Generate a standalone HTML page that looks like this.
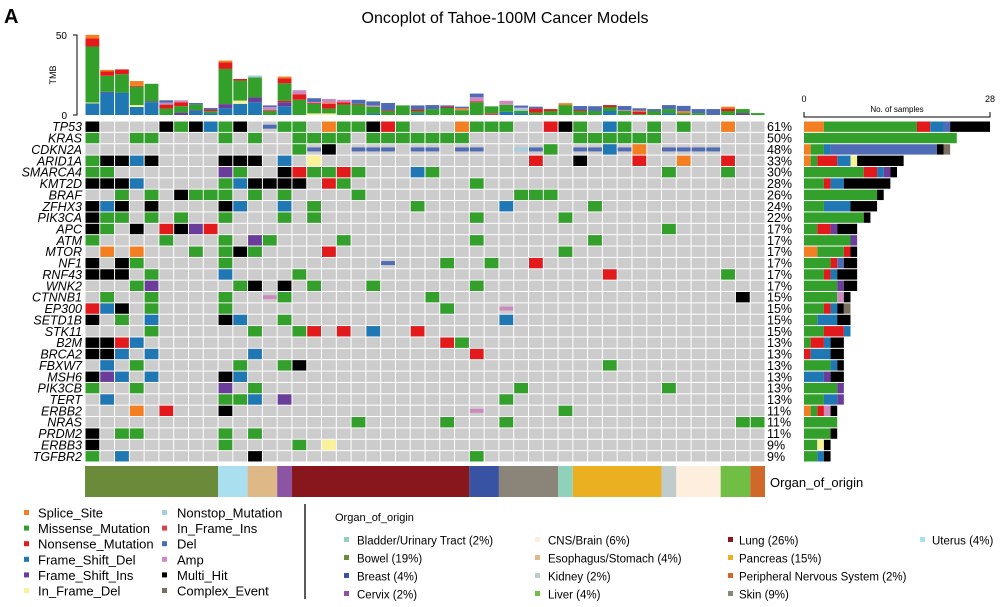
<!DOCTYPE html>
<html><head><meta charset="utf-8"><style>
html,body{margin:0;padding:0;background:#fff;}
svg{display:block;font-family:"Liberation Sans",sans-serif;}
</style></head><body>
<svg id="chart" width="1002" height="607" viewBox="0 0 1002 607" xmlns="http://www.w3.org/2000/svg">
<text x="4" y="23" font-size="20" font-weight="bold">A</text>
<text x="505" y="23" font-size="16" text-anchor="middle">Oncoplot of Tahoe-100M Cancer Models</text>
<g id="tmb"></g>
<g id="grid"></g>
<g id="right"></g>
<g id="organ"></g>
<g id="legend"></g>
<g id="olegend"></g>
</svg>
<script>
const genes = ["TP53","KRAS","CDKN2A","ARID1A","SMARCA4","KMT2D","BRAF","ZFHX3","PIK3CA","APC","ATM","MTOR","NF1","RNF43","WNK2","CTNNB1","EP300","SETD1B","STK11","B2M","BRCA2","FBXW7","MSH6","PIK3CB","TERT","ERBB2","NRAS","PRDM2","ERBB3","TGFBR2"];
const percents = ["61%","50%","48%","33%","30%","28%","26%","24%","22%","17%","17%","17%","17%","17%","17%","15%","15%","15%","15%","13%","13%","13%","13%","13%","13%","11%","11%","11%","9%","9%"];
const cells = [
"0K 5K 6G 7K 8B 9G 10K 12L 13G 14G 16O 17G 18G 19K 20R 21G 25O 26G 27G 28G 31R 32K 33G 35B 36G 38G 40G 43O",
"0G 3G 4G 9G 11G 14G 15G 16G 17G 19G 20G 21G 22G 23G 24G 25G 33G 34G 35G 36G 37G 38G",
"14G 15L 16K 18L 19L 20L 22L 23L 25L 26L 29N 30L 31G 33L 34L 35B 36L 37O 39L 40L 41L 42L",
"0G 1K 2K 3B 4K 9K 10K 11K 13B 15Y 30R 33K 37R 40O 43R",
"0G 1G 9P 10G 13K 14R 15G 16G 17R 18G 22B 23G 39G 43G",
"0K 1K 2K 3B 9G 10B 11K 12K 13K 14K 16R 17G 26G",
"2G 4G 6K 7G 8G 9G 11G 13G 18G 29G 30G 31G",
"0K 1B 2K 4K 9K 10B 13B 15G 22G 28B 34G",
"0K 1G 2G 4G 6G 9G 13G 15G 26G 32G",
"0K 1G 3K 5R 6K 7P 8R 39G",
"0G 5G 9G 11P 12G 17G 26G 34G",
"1O 3O 7G 9G 10K 11G 16R 32G",
"0K 2K 3G 9G 20L 24G 27G 30R",
"0K 1K 2K 4G 9B 14G 35R 43G",
"3G 4P 10G 11K 13K 15G 19G 26G",
"1G 4G 9G 12A 13G 23G 44K",
"0R 1B 2K 4G 9G 24G 28A",
"0K 2G 4B 9K 10B 13G 28B",
"4G 11G 14G 15R 17R 19B 22R",
"0K 1K 2R 3B 24R 25G",
"0K 1K 2B 4B 11B 26R",
"1B 3G 10G 13G 14K 35G",
"0K 1P 2B 4B 9K 10B",
"0G 3G 9P 11G 29G 39G",
"1B 9G 10G 11B 13P 28G",
"3O 5R 9K 26A 32G",
"18G 24G 28G 44G 45G",
"0K 2G 3G 9G 11G",
"0K 9G 14G 16Y",
"0G 2B 11K 26G"];
const geneCounts = [
"O3 G14 R2 B2 L1 K6","G23","O1 G2 B1 L16 K1 C1","O1 G1 R3 B2 Y1 K7","G9 R2 B1 P1 K1","G3 R1 B2 K7","G11 K1","G3 B4 K4","G9 K1","G2 R2 P1 K3",
"G7 P1","O2 G4 R1 K1","G4 R1 L1 K2","G3 R1 B1 K3","G5 P1 K2","G5 A1 K1","G3 R1 B1 K1 C1","G2 B3 K2","G3 R3 B1","G1 R2 B1 K2",
"R1 B3 K2","G4 B1 K1","B3 P1 K2","G5 P1","G3 B2 P1","O1 G1 R1 A1 K1","G5","G4 K1","G2 Y1 K1","G2 B1 K1"];
const tmbValues = [
"B7.3 Y0.5 G35 R5 O2.3","B14 P0.5 G10 R2.7 O1","B14 G11.5 R3","B5 Y1.2 G11.5 R0.5 O3","B8 P0.5 G11","G4 R2.5 A1.2 L1.5","P1.5 G4 R2.5 A1.2","B2.5 P0.5 G3.5 L1","B1.2 G1.2 R1 L1","B4.3 P2.5 G22 R4 O1.2",
"B7 Y2 G12.5 R1","B8 P3 G12.5 N1.2","G2.5 R0.5 A2 L1","B5.5 P2.5 R0.8 G11 R3 O1.2","G9.5 R3.5 A2.5","Y1 G6 R0.5 A0.5 L2.5","Y1 G3 R3 O0.5 A2.5","G6.5 R1.5 A1.5","G6.5 R0.5 L2.5","B1 G4 A1 L2.5",
"G2.5 R0.5 L4.5","G6","B1 G1.5 R1 L2.5","G3.7 L2.5","G4.4 R0.6 L1","G3 O1.2 L1","G8 R0.6 A2.5 L2.3","I1 G4.4","B2 G4.4 A2.5","B1.2 G1.5 N1.5 A0.5 L1.2",
"G1.5 R2.5 L1.2","G2.5 R1.2","G6.2 O1.2","G2.5 R0.6 L2.5","G2.5 L3","B2.5 G2.5 R1.2","G2.5 A0.6 L2.5","G0.6 R1.5 O0.6 L1.5","G2.5 L1.2","B1.2 G2.5 L2.5",
"G1.2 O1.2 L3.3","G1.2 L2.5","L3.7","G2.5 R1.5 O1.2","P1.2 G2.5","G1.2"];
const tmbTicks = [0,50];
const sampleTicks = [0,28];
const organs = ["Bowel","Uterus","Esophagus/Stomach","Cervix","Lung","Breast","Skin","Bladder/Urinary Tract","Pancreas","Kidney","CNS/Brain","Liver","Peripheral Nervous System"];
const organCounts = [9,2,2,1,12,2,4,1,6,1,3,2,1];
const organLegendLabels = ["Bladder/Urinary Tract (2%)","Bowel (19%)","Breast (4%)","Cervix (2%)","CNS/Brain (6%)","Esophagus/Stomach (4%)","Kidney (2%)","Liver (4%)","Lung (26%)","Pancreas (15%)","Peripheral Nervous System (2%)","Skin (9%)","Uterus (4%)"];

const COL={O:"#f47f22",G:"#33a02c",R:"#e31a1c",B:"#1f78b4",P:"#6a3d9a",Y:"#faf29b",N:"#a6cee3",I:"#d8434f",L:"#4f6bb5",A:"#cc8abf",K:"#000000",C:"#7b7060"};
const ORGCOL={"Bowel":"#6b8a3a","Uterus":"#aadff0","Esophagus/Stomach":"#dfb887","Cervix":"#8c55a3","Lung":"#88171d","Breast":"#3853a4","Skin":"#8b8479","Bladder/Urinary Tract":"#8fd1bb","Pancreas":"#ebaf22","Kidney":"#c0cccc","CNS/Brain":"#fdeedd","Liver":"#70bf44","Peripheral Nervous System":"#d0682a"};
const NS="http://www.w3.org/2000/svg";
function mk(tag,attrs,parent){const e=document.createElementNS(NS,tag);for(const k in attrs)e.setAttribute(k,attrs[k]);parent.appendChild(e);return e;}
function parseSeg(s){return s.split(" ").filter(Boolean).map(t=>({c:t[0],v:parseFloat(t.slice(1))}));}

const nCols=tmbValues.length, X0=85, X1=765, Y0=121, Y1=462;
const colW=(X1-X0)/nCols, rowH=(Y1-Y0)/genes.length;
const xCol=i=>X0+i*colW, yRow=r=>Y0+r*rowH;

// TMB
const tmb=document.getElementById('tmb');
const tmbBase=115, tmbTop=35, tmbMax=tmbTicks[tmbTicks.length-1];
const yT=v=>tmbBase-(v/tmbMax)*(tmbBase-tmbTop);
let ax=mk('path',{d:`M73 ${tmbTop} H77 V${tmbBase} H73`,fill:'none',stroke:'#000','stroke-width':1},tmb);


tmbTicks.forEach(t=>{const e=mk('text',{x:67,y:yT(t)+4,'font-size':10,'text-anchor':'end'},tmb);e.textContent=t;

});
let tl=mk('text',{x:0,y:0,'font-size':9,'text-anchor':'middle',transform:'translate(56,75) rotate(-90)'},tmb);tl.textContent='TMB';


tmbValues.forEach((s,i)=>{let acc=0;parseSeg(s).forEach(sg=>{const r=mk('rect',{x:xCol(i)+0.5,y:yT(acc+sg.v),width:colW-1,height:yT(acc)-yT(acc+sg.v),fill:COL[sg.c]},tmb);

acc+=sg.v;});});

// Grid
const grid=document.getElementById('grid');
genes.forEach((g,r)=>{
 for(let i=0;i<nCols;i++){const b=mk('rect',{x:xCol(i)+0.5,y:yRow(r)+0.5,width:colW-1,height:rowH-1,fill:'#cccccc'},grid);
 
 }
 cells[r].split(" ").filter(Boolean).forEach(t=>{const c=parseInt(t);const k=t.slice(-1);
  const thin=(k==='L'||k==='A'||k==='N');
  const h=thin?(rowH-1)*0.38:rowH-1;
  const e=mk('rect',{x:xCol(c)+0.5,y:yRow(r)+0.5+(rowH-1-h)/2,width:colW-1,height:h,fill:COL[k]},grid);
  
  });
 const gl=mk('text',{x:82,y:yRow(r)+rowH/2+4.5,'font-size':12.5,'font-style':'italic','text-anchor':'end'},grid);gl.textContent=g;
 
 
 const pl=mk('text',{x:767,y:yRow(r)+rowH/2+4.5,'font-size':12.5},grid);pl.textContent=percents[r];
 
 
});

// Right bars
const right=document.getElementById('right');
const RX0=804,RX1=990,sMax=sampleTicks[sampleTicks.length-1];
const xS=v=>RX0+(v/sMax)*(RX1-RX0);
let rax=mk('path',{d:`M${RX0} 112 V117 H${RX1} V112`,fill:'none',stroke:'#000','stroke-width':1},right);


sampleTicks.forEach(t=>{const e=mk('text',{x:xS(t),y:102,'font-size':9,'text-anchor':'middle'},right);e.textContent=t;

});
let rt=mk('text',{x:(RX0+RX1)/2,y:112,'font-size':8,'text-anchor':'middle'},right);rt.textContent='No. of samples';


geneCounts.forEach((s,r)=>{let acc=0;parseSeg(s).forEach(sg=>{const e=mk('rect',{x:xS(acc),y:yRow(r)+0.5,width:xS(acc+sg.v)-xS(acc),height:rowH-1,fill:COL[sg.c]},right);

acc+=sg.v;});});

// Organ bar
const organ=document.getElementById('organ');
let oc=0;
organs.forEach((o,j)=>{const e=mk('rect',{x:xCol(oc),y:466,width:organCounts[j]*colW,height:31,fill:ORGCOL[o]},organ);

oc+=organCounts[j];});
let ot=mk('text',{x:770,y:487,'font-size':13},organ);ot.textContent='Organ_of_origin';



// Variant legend
const legend=document.getElementById('legend');
const leg1=[["O","Splice_Site"],["G","Missense_Mutation"],["R","Nonsense_Mutation"],["B","Frame_Shift_Del"],["P","Frame_Shift_Ins"],["Y","In_Frame_Del"]];
const leg2=[["N","Nonstop_Mutation"],["I","In_Frame_Ins"],["L","Del"],["A","Amp"],["K","Multi_Hit"],["C","Complex_Event"]];
[[leg1,24,38],[leg2,162,177]].forEach(([items,sx,tx])=>items.forEach(([k,l],i)=>{const y=513+i*15.6;
 const s=mk('rect',{x:sx,y:y-3,width:5,height:5,fill:COL[k]},legend);
 
 
 const t=mk('text',{x:tx,y:y+4.5,'font-size':13},legend);t.textContent=l;
 
 }));
let vl=mk('line',{x1:305,y1:504,x2:305,y2:599,stroke:'#000','stroke-width':1.3},legend);



// Organ legend
const ol=document.getElementById('olegend');
let olt=mk('text',{x:335,y:521,'font-size':11},ol);olt.textContent='Organ_of_origin';


const ocx=[[344,357],[535,548],[728,739],[920,932]];
const oKeys=["Bladder/Urinary Tract","Bowel","Breast","Cervix","CNS/Brain","Esophagus/Stomach","Kidney","Liver","Lung","Pancreas","Peripheral Nervous System","Skin","Uterus"];
organLegendLabels.forEach((l,i)=>{const c=Math.floor(i/4),r=i%4;const y=541+r*18;
 const s=mk('rect',{x:ocx[c][0],y:y-4,width:5,height:5,fill:ORGCOL[oKeys[i]]},ol);
 
 
 const t=mk('text',{x:ocx[c][1],y:y+3.5,'font-size':11.5},ol);t.textContent=l;
 
 });
</script>
</body></html>
